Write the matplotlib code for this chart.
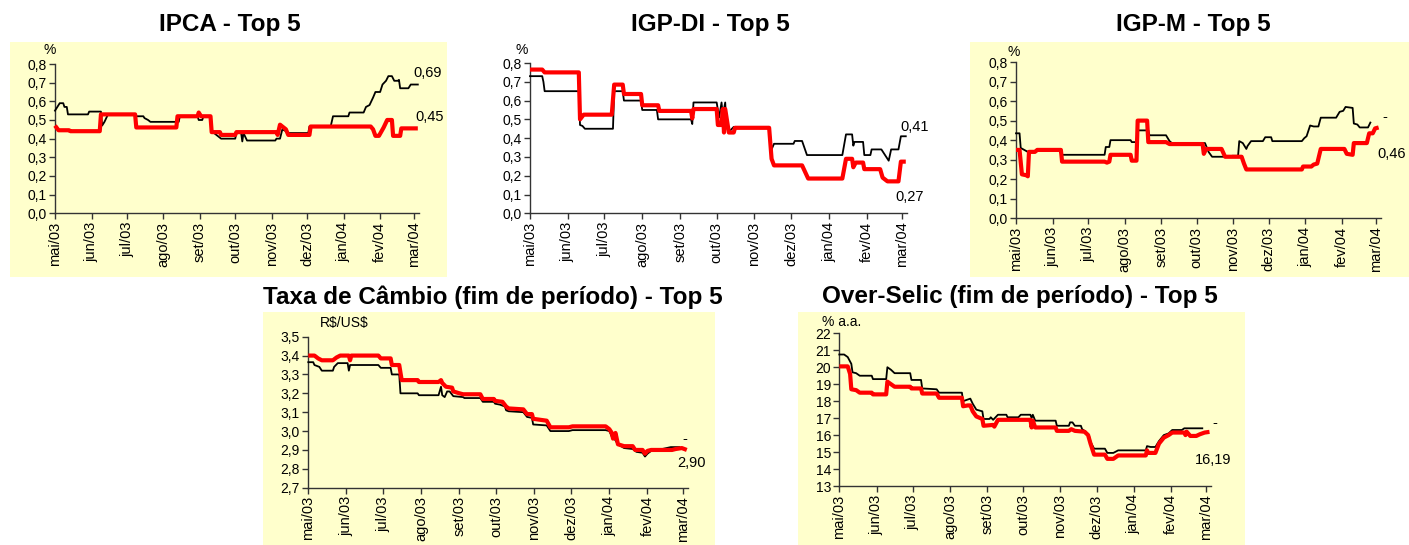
import numpy as np
import matplotlib
matplotlib.use("Agg")
import matplotlib.pyplot as plt
from matplotlib.patches import Rectangle

plt.rcParams['font.family'] = ['Liberation Sans', 'DejaVu Sans']

# ---------------- data (date, value) ----------------
month_ticks = ["2003-05-01", "2003-06-01", "2003-07-01", "2003-08-01", "2003-09-01",
               "2003-10-01", "2003-11-01", "2003-12-01", "2004-01-01", "2004-02-01",
               "2004-03-01"]
month_labels = ["mai/03", "jun/03", "jul/03", "ago/03", "set/03", "out/03",
                "nov/03", "dez/03", "jan/04", "fev/04", "mar/04"]

ipca_top5 = [("2003-05-01",0.55),("2003-05-05",0.59),("2003-05-08",0.59),("2003-05-09",0.57),("2003-05-11",0.57),
    ("2003-05-12",0.53),("2003-05-29",0.53),("2003-05-30",0.545),("2003-06-09",0.545),("2003-06-10",0.47),
    ("2003-06-12",0.49),("2003-06-15",0.53),("2003-07-08",0.53),("2003-07-09",0.52),("2003-07-15",0.52),
    ("2003-07-16",0.51),("2003-07-19",0.50),("2003-07-21",0.49),("2003-08-14",0.49),("2003-08-15",0.52),
    ("2003-08-30",0.52),("2003-08-31",0.50),("2003-09-03",0.50),("2003-09-04",0.52),("2003-09-10",0.52),
    ("2003-09-11",0.44),("2003-09-19",0.40),("2003-10-01",0.40),("2003-10-02",0.43),("2003-10-06",0.43),
    ("2003-10-07",0.385),("2003-10-08",0.43),("2003-10-11",0.39),("2003-11-04",0.39),("2003-11-05",0.40),
    ("2003-11-08",0.40),("2003-11-10",0.45),("2003-11-13",0.44),("2003-11-15",0.43),("2003-12-02",0.43),
    ("2003-12-03",0.465),("2003-12-21",0.465),("2003-12-23",0.52),("2004-01-05",0.52),("2004-01-06",0.54),
    ("2004-01-18",0.54),("2004-01-20",0.57),("2004-01-23",0.58),("2004-01-26",0.62),("2004-01-28",0.65),
    ("2004-02-01",0.65),("2004-02-03",0.69),("2004-02-06",0.71),("2004-02-08",0.735),("2004-02-11",0.735),
    ("2004-02-13",0.71),("2004-02-16",0.71),("2004-02-17",0.715),("2004-02-18",0.67),("2004-02-25",0.67),
    ("2004-02-27",0.69),("2004-03-04",0.69)]
ipca_red = [("2003-05-01",0.47),("2003-05-04",0.445),("2003-05-13",0.445),("2003-05-14",0.44),("2003-06-08",0.44),
    ("2003-06-09",0.53),("2003-07-08",0.53),("2003-07-09",0.46),("2003-08-12",0.46),("2003-08-13",0.52),
    ("2003-08-30",0.52),("2003-08-31",0.54),("2003-09-02",0.52),("2003-09-10",0.52),("2003-09-11",0.435),
    ("2003-09-18",0.435),("2003-09-19",0.42),("2003-10-01",0.42),("2003-10-02",0.435),("2003-11-05",0.435),
    ("2003-11-06",0.42),("2003-11-08",0.475),("2003-11-11",0.46),("2003-11-13",0.45),("2003-11-15",0.42),
    ("2003-12-03",0.42),("2003-12-04",0.465),("2004-01-24",0.465),("2004-01-26",0.45),("2004-01-28",0.415),
    ("2004-01-31",0.415),("2004-02-04",0.46),("2004-02-07",0.50),("2004-02-11",0.50),("2004-02-12",0.415),
    ("2004-02-18",0.415),("2004-02-19",0.455),("2004-03-04",0.455)]

igpdi_top5 = [("2003-05-01",0.73),("2003-05-11",0.73),("2003-05-12",0.70),("2003-05-13",0.65),("2003-06-10",0.65),
    ("2003-06-11",0.47),("2003-06-13",0.465),("2003-06-15",0.45),("2003-07-08",0.45),("2003-07-09",0.65),
    ("2003-07-16",0.65),("2003-07-17",0.60),("2003-07-31",0.60),("2003-08-01",0.55),("2003-08-13",0.55),
    ("2003-08-14",0.50),("2003-09-10",0.50),("2003-09-11",0.475),("2003-09-12",0.59),("2003-10-01",0.59),
    ("2003-10-03",0.51),("2003-10-05",0.59),("2003-10-06",0.52),("2003-10-08",0.59),("2003-10-09",0.46),
    ("2003-10-12",0.44),("2003-10-15",0.46),("2003-11-13",0.46),("2003-11-15",0.34),("2003-11-17",0.37),
    ("2003-12-03",0.37),("2003-12-04",0.385),("2003-12-10",0.385),("2003-12-14",0.31),("2004-01-12",0.31),
    ("2004-01-15",0.42),("2004-01-20",0.42),("2004-01-21",0.36),("2004-01-22",0.38),("2004-01-29",0.38),
    ("2004-01-30",0.31),("2004-02-04",0.31),("2004-02-05",0.34),("2004-02-13",0.34),("2004-02-16",0.31),
    ("2004-02-19",0.28),("2004-02-21",0.34),("2004-02-27",0.34),("2004-02-29",0.41),("2004-03-04",0.41)]
igpdi_red = [("2003-05-01",0.765),("2003-05-11",0.765),("2003-05-13",0.75),("2003-06-10",0.75),("2003-06-11",0.50),
    ("2003-06-14",0.525),("2003-07-07",0.525),("2003-07-09",0.685),("2003-07-16",0.685),("2003-07-17",0.635),
    ("2003-07-31",0.635),("2003-08-01",0.575),("2003-08-14",0.575),("2003-08-15",0.545),("2003-09-10",0.545),
    ("2003-09-11",0.505),("2003-09-12",0.555),("2003-10-01",0.555),("2003-10-02",0.47),("2003-10-05",0.47),
    ("2003-10-06",0.555),("2003-10-07",0.43),("2003-10-08",0.555),("2003-10-11",0.43),("2003-10-15",0.43),
    ("2003-10-16",0.455),("2003-11-13",0.455),("2003-11-15",0.29),("2003-11-17",0.255),("2003-12-10",0.255),
    ("2003-12-15",0.185),("2004-01-12",0.185),("2004-01-15",0.29),("2004-01-20",0.29),("2004-01-21",0.245),
    ("2004-01-23",0.27),("2004-01-29",0.27),("2004-01-30",0.235),("2004-02-12",0.235),("2004-02-14",0.19),
    ("2004-02-18",0.17),("2004-02-27",0.17),("2004-02-29",0.275),("2004-03-04",0.275)]

igpm_top5 = [("2003-05-01",0.435),("2003-05-04",0.435),("2003-05-05",0.36),("2003-05-08",0.35),("2003-05-11",0.34),
    ("2003-05-12",0.345),("2003-05-21",0.345),("2003-05-22",0.35),("2003-06-06",0.35),("2003-06-09",0.325),
    ("2003-07-15",0.325),("2003-07-16",0.365),("2003-07-19",0.365),("2003-07-20",0.40),("2003-08-06",0.40),
    ("2003-08-07",0.39),("2003-08-11",0.39),("2003-08-12",0.45),("2003-08-21",0.45),("2003-08-22",0.425),
    ("2003-09-05",0.425),("2003-09-08",0.395),("2003-09-10",0.385),("2003-10-08",0.385),("2003-10-11",0.34),
    ("2003-10-14",0.315),("2003-10-30",0.315),("2003-10-31",0.32),("2003-11-05",0.32),("2003-11-06",0.395),
    ("2003-11-09",0.385),("2003-11-12",0.355),("2003-11-13",0.37),("2003-11-16",0.395),("2003-11-26",0.395),
    ("2003-11-28",0.415),("2003-12-03",0.415),("2003-12-04",0.395),("2003-12-29",0.395),("2003-12-31",0.41),
    ("2004-01-02",0.42),("2004-01-05",0.475),("2004-01-08",0.47),("2004-01-12",0.47),("2004-01-14",0.515),
    ("2004-01-27",0.515),("2004-01-30",0.545),("2004-02-02",0.55),("2004-02-04",0.57),("2004-02-10",0.565),
    ("2004-02-11",0.485),("2004-02-14",0.48),("2004-02-16",0.465),("2004-02-23",0.465),("2004-02-25",0.49)]
igpm_red = [("2003-05-01",0.35),("2003-05-04",0.35),("2003-05-06",0.225),("2003-05-10",0.22),("2003-05-11",0.215),
    ("2003-05-12",0.34),("2003-05-17",0.34),("2003-05-19",0.35),("2003-06-08",0.35),("2003-06-09",0.29),
    ("2003-07-15",0.29),("2003-07-17",0.285),("2003-07-19",0.29),("2003-07-20",0.325),("2003-08-06",0.325),
    ("2003-08-07",0.295),("2003-08-11",0.295),("2003-08-12",0.50),("2003-08-20",0.50),("2003-08-21",0.39),
    ("2003-09-05",0.39),("2003-09-08",0.38),("2003-10-06",0.38),("2003-10-07",0.33),("2003-10-09",0.355),
    ("2003-10-22",0.355),("2003-10-25",0.315),("2003-11-08",0.315),("2003-11-10",0.28),("2003-11-12",0.25),
    ("2003-12-29",0.25),("2003-12-30",0.265),("2004-01-06",0.265),("2004-01-08",0.275),("2004-01-11",0.28),
    ("2004-01-14",0.355),("2004-02-03",0.355),("2004-02-05",0.33),("2004-02-10",0.325),("2004-02-11",0.385),
    ("2004-02-22",0.385),("2004-02-24",0.435),("2004-02-27",0.435),("2004-02-29",0.46),("2004-03-03",0.465)]

cambio_top5 = [("2003-05-01",3.365),("2003-05-05",3.365),("2003-05-06",3.35),("2003-05-10",3.34),("2003-05-12",3.32),
    ("2003-05-21",3.32),("2003-05-22",3.34),("2003-05-25",3.36),("2003-06-02",3.36),("2003-06-03",3.32),
    ("2003-06-04",3.35),("2003-06-27",3.35),("2003-06-29",3.335),("2003-07-07",3.335),("2003-07-08",3.30),
    ("2003-07-14",3.30),("2003-07-15",3.20),("2003-07-29",3.20),("2003-07-30",3.19),("2003-08-15",3.19),
    ("2003-08-17",3.235),("2003-08-18",3.19),("2003-08-20",3.18),("2003-08-22",3.21),("2003-08-24",3.21),
    ("2003-08-27",3.185),("2003-09-04",3.18),("2003-09-05",3.175),("2003-09-18",3.175),("2003-09-20",3.155),
    ("2003-09-29",3.155),("2003-09-30",3.145),("2003-10-04",3.14),("2003-10-08",3.13),("2003-10-09",3.11),
    ("2003-10-11",3.105),("2003-10-23",3.10),("2003-10-26",3.075),("2003-10-30",3.07),("2003-10-31",3.035),
    ("2003-11-11",3.03),("2003-11-14",3.00),("2003-11-29",3.00),("2003-12-02",3.005),("2003-12-29",3.005),
    ("2004-01-01",3.00),("2004-01-03",2.97),("2004-01-05",2.96),("2004-01-08",2.93),("2004-01-13",2.91),
    ("2004-01-20",2.905),("2004-01-23",2.89),("2004-01-28",2.885),("2004-01-30",2.865),("2004-02-01",2.88),
    ("2004-02-05",2.90),("2004-02-13",2.905),("2004-02-20",2.915),("2004-02-27",2.915)]
cambio_red = [("2003-05-01",3.40),("2003-05-06",3.40),("2003-05-09",3.385),("2003-05-12",3.375),("2003-05-21",3.375),
    ("2003-05-24",3.39),("2003-05-27",3.40),("2003-06-03",3.40),("2003-06-04",3.375),("2003-06-05",3.40),
    ("2003-06-27",3.40),("2003-06-29",3.385),("2003-07-07",3.385),("2003-07-08",3.35),("2003-07-14",3.35),
    ("2003-07-16",3.27),("2003-07-29",3.27),("2003-07-30",3.26),("2003-08-15",3.26),("2003-08-17",3.27),
    ("2003-08-18",3.255),("2003-08-21",3.235),("2003-08-26",3.23),("2003-08-27",3.21),("2003-09-01",3.20),
    ("2003-09-04",3.195),("2003-09-18",3.195),("2003-09-20",3.17),("2003-09-29",3.17),("2003-09-30",3.16),
    ("2003-10-06",3.155),("2003-10-09",3.13),("2003-10-11",3.12),("2003-10-23",3.115),("2003-10-26",3.09),
    ("2003-10-30",3.09),("2003-10-31",3.065),("2003-11-11",3.055),("2003-11-14",3.02),("2003-11-29",3.02),
    ("2003-12-02",3.025),("2003-12-29",3.025),("2004-01-01",3.01),("2004-01-03",2.99),("2004-01-04",2.96),
    ("2004-01-06",2.99),("2004-01-08",2.93),("2004-01-13",2.92),("2004-01-20",2.92),("2004-01-22",2.90),
    ("2004-01-28",2.90),("2004-01-30",2.88),("2004-02-01",2.895),("2004-02-04",2.90),("2004-02-21",2.90),
    ("2004-02-24",2.905),("2004-02-29",2.91),("2004-03-04",2.90)]

selic_top5 = [("2003-05-01",20.75),("2003-05-05",20.75),("2003-05-08",20.6),("2003-05-11",20.2),("2003-05-12",19.7),
    ("2003-05-15",19.65),("2003-05-18",19.5),("2003-05-28",19.5),("2003-05-29",19.3),("2003-06-09",19.3),
    ("2003-06-10",20.0),("2003-06-13",19.85),("2003-06-16",19.65),("2003-06-29",19.65),("2003-06-30",19.25),
    ("2003-07-08",19.25),("2003-07-09",18.75),("2003-07-21",18.7),("2003-07-23",18.5),("2003-08-11",18.5),
    ("2003-08-12",18.0),("2003-08-16",18.1),("2003-08-18",18.15),("2003-08-20",17.85),("2003-08-23",17.5),
    ("2003-08-28",17.4),("2003-08-29",16.95),("2003-09-03",16.95),("2003-09-04",17.05),("2003-09-06",16.9),
    ("2003-09-10",17.2),("2003-09-17",17.2),("2003-09-18",17.05),("2003-09-27",17.05),("2003-09-29",17.2),
    ("2003-10-07",17.2),("2003-10-08",17.0),("2003-10-09",17.2),("2003-10-11",16.85),("2003-10-28",16.85),
    ("2003-10-29",16.55),("2003-11-08",16.55),("2003-11-09",16.75),("2003-11-11",16.75),("2003-11-13",16.55),
    ("2003-11-18",16.55),("2003-11-19",16.35),("2003-11-22",16.2),("2003-11-25",15.9),("2003-11-26",15.6),
    ("2003-11-29",15.2),("2003-12-08",15.2),("2003-12-10",14.95),("2003-12-15",14.95),("2003-12-19",15.1),
    ("2004-01-11",15.1),("2004-01-12",15.35),("2004-01-15",15.3),("2004-01-19",15.3),("2004-01-22",15.65),
    ("2004-01-26",16.0),("2004-01-30",16.1),("2004-02-02",16.3),("2004-02-10",16.3),("2004-02-12",16.4),
    ("2004-02-27",16.4)]
selic_red = [("2003-05-01",20.05),("2003-05-08",20.05),("2003-05-10",19.6),("2003-05-11",18.7),("2003-05-15",18.65),
    ("2003-05-18",18.5),("2003-05-28",18.5),("2003-05-29",18.4),("2003-06-09",18.4),("2003-06-10",19.15),
    ("2003-06-13",19.0),("2003-06-16",18.85),("2003-06-29",18.85),("2003-06-30",18.75),("2003-07-08",18.75),
    ("2003-07-09",18.45),("2003-07-21",18.45),("2003-07-23",18.2),("2003-08-11",18.2),("2003-08-12",17.7),
    ("2003-08-16",17.75),("2003-08-18",17.75),("2003-08-20",17.4),("2003-08-23",17.1),("2003-08-28",16.95),
    ("2003-08-29",16.55),("2003-09-06",16.6),("2003-09-07",16.5),("2003-09-10",16.9),("2003-10-07",16.9),
    ("2003-10-08",16.45),("2003-10-09",16.85),("2003-10-11",16.45),("2003-10-28",16.45),("2003-10-29",16.25),
    ("2003-11-08",16.25),("2003-11-10",16.35),("2003-11-13",16.25),("2003-11-21",16.2),("2003-11-24",16.0),
    ("2003-11-26",15.5),("2003-11-29",14.85),("2003-12-08",14.85),("2003-12-10",14.6),("2003-12-15",14.6),
    ("2003-12-19",14.8),("2004-01-11",14.8),("2004-01-12",15.1),("2004-01-13",14.95),("2004-01-19",14.95),
    ("2004-01-22",15.5),("2004-01-26",15.85),("2004-01-30",16.0),("2004-02-02",16.15),("2004-02-12",16.15),
    ("2004-02-13",16.0),("2004-02-14",16.2),("2004-02-17",15.95),("2004-02-22",15.95),("2004-02-25",16.05),
    ("2004-02-29",16.15),("2004-03-04",16.19)]

titles = ["IPCA - Top 5", "IGP-DI - Top 5", "IGP-M - Top 5",
          "Taxa de Câmbio (fim de período) - Top 5", "Over-Selic (fim de período) - Top 5"]
units = ["%", "%", "%", r"R\$/US\$", "% a.a."]
end_labels = [("0,69", "0,45"), ("0,41", "0,27"), ("-", "0,46"), ("-", "2,90"), ("-", "16,19")]

# ---------------- layout (pixels) ----------------
W, H = 1409, 545
fig = plt.figure(figsize=(W / 100, H / 100), dpi=100)
fig.patch.set_facecolor("white")

BG = "#FFFFCC"
RED = "#FF0000"
AX_COL = "#333333"


def px_rect(x0, y0, x1, y1):
    return [x0 / W, 1 - y1 / H, (x1 - x0) / W, (y1 - y0) / H]


def add_bg(x0, y0, x1, y1):
    bg_ax = fig.add_axes(px_rect(x0, y0, x1, y1), zorder=-10)
    bg_ax.set_facecolor(BG)
    bg_ax.set_xticks([])
    bg_ax.set_yticks([])
    for s in bg_ax.spines.values():
        s.set_visible(False)


def ftext(x, y, s, **kw):
    fig.text(x / W, 1 - y / H, s, **kw)


panels = [
    dict(ax=(55, 64, 419, 213.3), bg=(10, 42, 447, 277), title=(230, 25), unit=(43, 50),
         lab=((413, 73), (415, 117)), ylim=(0, 0.8), yt=np.arange(0, 0.81, 0.1), fmt="{:.1f}",
         top=ipca_top5, red=ipca_red),
    dict(ax=(530, 63, 907, 213.3), bg=None, title=(710, 25), unit=(515, 50),
         lab=((900, 127), (895, 197)), ylim=(0, 0.8), yt=np.arange(0, 0.81, 0.1), fmt="{:.1f}",
         top=igpdi_top5, red=igpdi_red),
    dict(ax=(1016, 62, 1381, 218.3), bg=(970, 42, 1409, 277), title=(1193, 25), unit=(1007, 52),
         lab=((1382, 117), (1377, 154)), ylim=(0, 0.8), yt=np.arange(0, 0.81, 0.1), fmt="{:.1f}",
         top=igpm_top5, red=igpm_red),
    dict(ax=(308.3, 336.7, 688, 487.7), bg=(263, 312, 715, 545), title=(493, 297), unit=(320, 323),
         lab=((682, 439), (677, 463)), ylim=(2.7, 3.5), yt=np.arange(2.7, 3.51, 0.1), fmt="{:.1f}",
         top=cambio_top5, red=cambio_red),
    dict(ax=(839.3, 333.3, 1210.7, 486), bg=(798, 312, 1245, 545), title=(1020, 297), unit=(822, 322),
         lab=((1212, 423), (1195, 460)), ylim=(13, 22), yt=np.arange(13, 22.1, 1), fmt="{:.0f}",
         top=selic_top5, red=selic_red),
]

xt = np.array(month_ticks, dtype="datetime64[D]")
x_left = np.datetime64("2003-05-01")
x_right = np.datetime64("2004-03-05")

for i, p in enumerate(panels):
    if p["bg"] is not None:
        add_bg(*p["bg"])
    l, t, r, b = p["ax"]
    ax = fig.add_axes(px_rect(l, t, r, b), zorder=1)
    ax.patch.set_alpha(0)
    for s in ("top", "right"):
        ax.spines[s].set_visible(False)
    for s in ("left", "bottom"):
        ax.spines[s].set_color(AX_COL)
        ax.spines[s].set_linewidth(1.0)

    d1 = np.array([d for d, v in p["top"]], dtype="datetime64[D]")
    v1 = np.array([v for d, v in p["top"]])
    d2 = np.array([d for d, v in p["red"]], dtype="datetime64[D]")
    v2 = np.array([v for d, v in p["red"]])
    ax.plot(d1, v1, color="black", lw=1.3, zorder=3, clip_on=False)
    ax.plot(d2, v2, color=RED, lw=3.0, solid_capstyle="butt", zorder=4, clip_on=False)

    ax.set_xlim(x_left, x_right)
    ax.set_ylim(*p["ylim"])
    ax.set_xticks(xt)
    ax.set_xticklabels(month_labels, rotation=90, fontsize=10.5)
    ax.set_yticks(p["yt"])
    ax.set_yticklabels([p["fmt"].format(v).replace(".", ",") for v in p["yt"]], fontsize=10)
    ax.tick_params(axis="both", direction="out", length=4, width=1, color=AX_COL, pad=2)

    ftext(p["title"][0], p["title"][1], titles[i], fontsize=17.5, fontweight="bold",
          ha="center", va="center")
    ftext(p["unit"][0], p["unit"][1], units[i], fontsize=10, ha="left", va="center")
    (x1, y1), (x2, y2) = p["lab"]
    ftext(x1, y1, end_labels[i][0], fontsize=10.5, ha="left", va="center")
    ftext(x2, y2, end_labels[i][1], fontsize=10.5, ha="left", va="center")

fig.savefig("out.png", dpi=100)
